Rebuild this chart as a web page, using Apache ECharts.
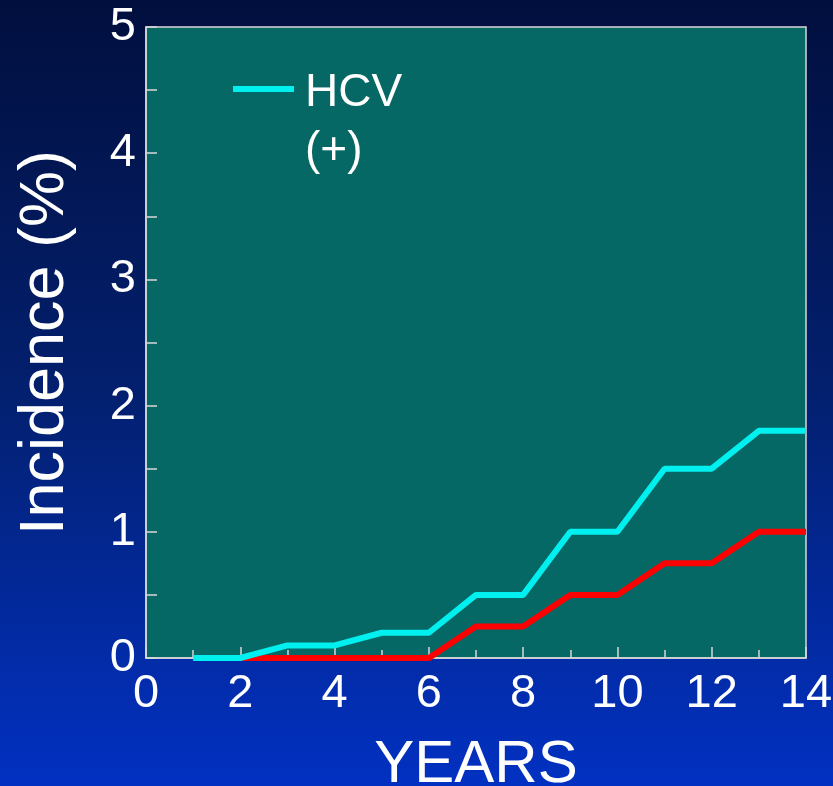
<!DOCTYPE html>
<html>
<head>
<meta charset="utf-8">
<script src="https://cdn.jsdelivr.net/npm/echarts@6/dist/echarts.min.js"></script>
<style>
html,body{margin:0;padding:0;background:#000;}
#chart{width:833px;height:786px;}
</style>
</head>
<body>
<div id="chart"></div>
<script>
// Data
const years = [1, 2, 3, 4, 5, 6, 7, 8, 9, 10, 11, 12, 13, 14];
const hcvPositive = [0, 0, 0.1, 0.1, 0.2, 0.2, 0.5, 0.5, 1.0, 1.0, 1.5, 1.5, 1.8, 1.8];
const hcvNegative = [null, 0, 0, 0, 0, 0, 0.25, 0.25, 0.5, 0.5, 0.75, 0.75, 1.0, 1.0];
const xTicks = [0, 2, 4, 6, 8, 10, 12, 14];
const yTicks = [0, 1, 2, 3, 4, 5];
const legendName = 'HCV\n(+)';
const negName = 'HCV (-)';

function pairs(xs, ys) {
  const out = [];
  xs.forEach((x, i) => { if (ys[i] !== null) out.push([x, ys[i]]); });
  return out;
}

const FONT = '"Liberation Sans", Arial, sans-serif';
const chart = echarts.init(document.getElementById('chart'));
chart.setOption({
  backgroundColor: {
    type: 'linear', x: 0, y: 0, x2: 0, y2: 1,
    colorStops: [
      { offset: 0, color: '#010f3e' },
      { offset: 0.5, color: '#03206f' },
      { offset: 1, color: '#0231c2' }
    ]
  },
  animation: false,
  textStyle: { fontFamily: FONT },
  grid: {
    left: 146, right: 27, top: 27, bottom: 128,
    outerBoundsMode: 'none',
    containLabel: false,
    show: true,
    backgroundColor: '#066865',
    borderColor: '#d8d8d8',
    borderWidth: 1.5
  },
  legend: {
    data: [legendName],
    left: 233,
    top: 64,
    padding: 0,
    itemWidth: 61,
    itemHeight: 72,
    icon: 'path://M0,0L61,0L61,6L0,6Z M0,72L0,72',
    textStyle: {
      color: '#ffffff',
      fontSize: 46,
      fontFamily: FONT,
      lineHeight: 58,
      padding: [0, 0, 0, 6]
    }
  },
  xAxis: {
    type: 'value',
    min: xTicks[0],
    max: xTicks[xTicks.length - 1],
    interval: 2,
    name: 'YEARS',
    nameLocation: 'middle',
    nameGap: 77,
    nameTextStyle: { color: '#ffffff', fontSize: 60, fontFamily: FONT },
    axisLine: { show: true, lineStyle: { color: '#d8d8d8', width: 1.5 } },
    axisTick: { show: true, inside: true, length: 11, lineStyle: { color: '#d8d8d8', width: 1.5 } },
    minorTick: { show: true, splitNumber: 2, length: 8, lineStyle: { color: '#d8d8d8', width: 1.5 } },
    splitLine: { show: false },
    axisLabel: { color: '#ffffff', fontSize: 47, margin: 13, fontFamily: FONT }
  },
  yAxis: {
    type: 'value',
    min: yTicks[0],
    max: yTicks[yTicks.length - 1],
    interval: 1,
    name: 'Incidence (%)',
    nameLocation: 'middle',
    nameRotate: 90,
    nameGap: 69,
    nameTextStyle: { color: '#ffffff', fontSize: 63, fontFamily: FONT },
    axisLine: { show: true, lineStyle: { color: '#d8d8d8', width: 1.5 } },
    axisTick: { show: true, inside: true, length: 11, lineStyle: { color: '#d8d8d8', width: 1.5 } },
    minorTick: { show: true, splitNumber: 2, length: 11, lineStyle: { color: '#d8d8d8', width: 1.5 } },
    splitLine: { show: false },
    axisLabel: { color: '#ffffff', fontSize: 47, margin: 10, fontFamily: FONT }
  },
  series: [
    {
      name: negName,
      type: 'line',
      data: pairs(years, hcvNegative),
      showSymbol: false,
      symbol: 'none',
      lineStyle: { color: '#ff0000', width: 6 },
      itemStyle: { color: '#ff0000' },
      z: 2
    },
    {
      name: legendName,
      type: 'line',
      data: pairs(years, hcvPositive),
      showSymbol: false,
      symbol: 'none',
      lineStyle: { color: '#00f0f0', width: 6 },
      itemStyle: { color: '#00f0f0' },
      z: 3
    }
  ]
});
</script>
</body>
</html>
